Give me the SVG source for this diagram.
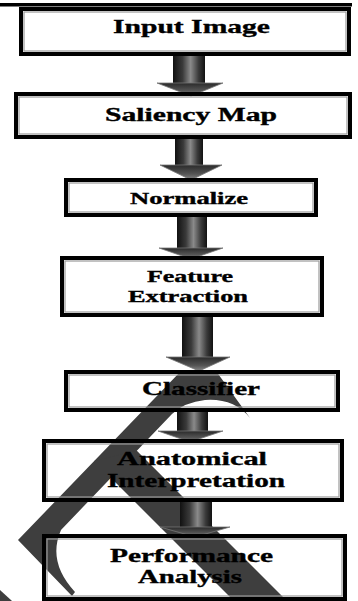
<svg xmlns="http://www.w3.org/2000/svg" width="358" height="601" viewBox="0 0 358 601">
<defs>
<linearGradient id="shaft" x1="0" y1="0" x2="1" y2="0">
<stop offset="0" stop-color="#111"/>
<stop offset="0.3" stop-color="#3a3a3a"/>
<stop offset="0.55" stop-color="#8a8a8a"/>
<stop offset="0.8" stop-color="#3a3a3a"/>
<stop offset="1" stop-color="#111"/>
</linearGradient>
<linearGradient id="head" x1="0" y1="0" x2="0" y2="1">
<stop offset="0" stop-color="#2a2a2a"/>
<stop offset="0.6" stop-color="#555"/>
<stop offset="1" stop-color="#8a8a8a"/>
</linearGradient>
<style>
.fill{fill:#fff;stroke:none}
.box{fill:none;stroke:#000;stroke-width:4}
.inner{fill:none;stroke:#9a9a9a;stroke-width:1.2}
.t{font-family:"Liberation Serif","Times New Roman",serif;font-weight:bold;fill:#000;stroke:#000;stroke-width:0.35;text-anchor:middle}
.wm{fill:#3e3e3e}
.sh{fill:url(#shaft)}
.hd{fill:url(#head);stroke:#777;stroke-width:0.8}
</style>
</defs>
<rect width="358" height="601" fill="#fff"/>
<rect x="0" y="3" width="352" height="3.5" fill="#000"/>
<g id="fills">
<rect class="fill" x="21" y="9" width="328" height="45"/>
<rect class="fill" x="16" y="94" width="334" height="43"/>
<rect class="fill" x="66" y="180" width="250" height="35"/>
<rect class="fill" x="62" y="258" width="260" height="57"/>
<rect class="fill" x="66" y="372" width="272" height="38"/>
<rect class="fill" x="44" y="441" width="298" height="59"/>
<rect class="fill" x="44" y="536" width="301" height="63"/>
</g>
<g id="watermark">
<path class="wm" d="M181,371 L216,371 L250,418 Q234,398 205,400 Q185,402 172,414 L61,530 Q47,562 75,592 L72,596 L18,540 Z"/>
<path class="wm" d="M94,461 L136.6,450.6 L283,597 L230,597 Z"/>
<path class="wm" d="M0,590 L12,601 L0,601 Z"/>
</g>
<g id="connectors">
<rect class="sh" x="173" y="54" width="32" height="29"/>
<polygon class="hd" points="157,83 223,83 191,96"/>
<rect class="sh" x="175" y="137" width="28" height="28"/>
<polygon class="hd" points="160,165 222,165 191,180"/>
<rect class="sh" x="177" y="215" width="30" height="33"/>
<polygon class="hd" points="159,248 223,248 191,259"/>
<rect class="sh" x="182" y="315" width="31" height="42"/>
<polygon class="hd" points="166,357 230,357 199,371"/>
<rect class="sh" x="177" y="410" width="31" height="21"/>
<polygon class="hd" points="158,431 223,431 190,442"/>
<rect class="sh" x="180" y="500" width="32" height="27"/>
<polygon class="hd" points="160,527 230,527 195,537"/>
</g>
<g id="n1">
<rect class="box" x="21" y="9" width="328" height="45"/>
<rect class="inner" x="24" y="12" width="322" height="39"/>
<text class="t" x="191.5" y="33" font-size="19" textLength="157" lengthAdjust="spacingAndGlyphs">Input Image</text>
</g>
<g id="n2">
<rect class="box" x="16" y="94" width="334" height="43"/>
<rect class="inner" x="19" y="97" width="328" height="37"/>
<text class="t" x="191" y="121" font-size="18" textLength="172" lengthAdjust="spacingAndGlyphs">Saliency Map</text>
</g>
<g id="n3">
<rect class="box" x="66" y="180" width="250" height="35"/>
<rect class="inner" x="69" y="183" width="244" height="29"/>
<text class="t" x="189" y="204" font-size="16" textLength="118" lengthAdjust="spacingAndGlyphs">Normalize</text>
</g>
<g id="n4">
<rect class="box" x="62" y="258" width="260" height="57"/>
<rect class="inner" x="65" y="261" width="254" height="51"/>
<text class="t" x="190" y="282" font-size="16" textLength="86" lengthAdjust="spacingAndGlyphs">Feature</text>
<text class="t" x="188" y="302" font-size="16" textLength="120" lengthAdjust="spacingAndGlyphs">Extraction</text>
</g>
<g id="n5">
<rect class="box" x="66" y="372" width="272" height="38"/>
<rect class="inner" x="69" y="375" width="266" height="32"/>
<text class="t" x="201" y="395" font-size="19" textLength="118" lengthAdjust="spacingAndGlyphs">Classifier</text>
</g>
<g id="n6">
<rect class="box" x="44" y="441" width="298" height="59"/>
<rect class="inner" x="47" y="444" width="292" height="53"/>
<text class="t" x="192" y="465" font-size="18" textLength="150" lengthAdjust="spacingAndGlyphs">Anatomical</text>
<text class="t" x="196" y="487" font-size="18" textLength="178" lengthAdjust="spacingAndGlyphs">Interpretation</text>
</g>
<g id="n7">
<rect class="box" x="44" y="536" width="301" height="63"/>
<rect class="inner" x="47" y="539" width="295" height="57"/>
<text class="t" x="191.5" y="562" font-size="18" textLength="163" lengthAdjust="spacingAndGlyphs">Performance</text>
<text class="t" x="190" y="583" font-size="18" textLength="104" lengthAdjust="spacingAndGlyphs">Analysis</text>
</g>
</svg>
